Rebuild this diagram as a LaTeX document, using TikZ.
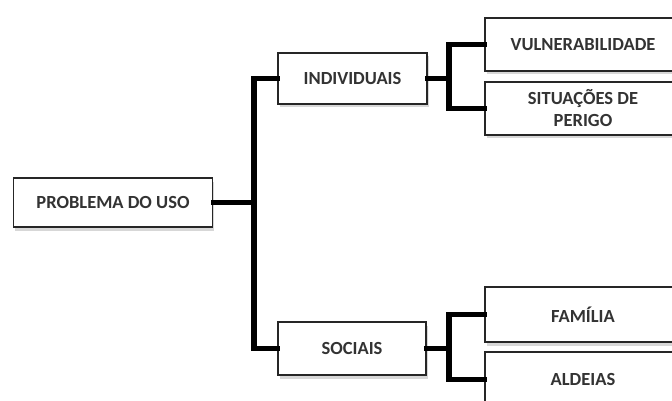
\documentclass[tikz,border=0pt]{standalone}
\usepackage{fontspec}
\setmainfont{Carlito}
\usetikzlibrary{shadows}
\begin{document}
\begin{tikzpicture}[x=1pt,y=-1pt,
  box/.style={draw=black!85, line width=1.8pt, fill=white, inner sep=0pt,
    align=center, text=black!80,
    font=\fontsize{18.5}{22}\selectfont\bfseries,
    drop shadow={shadow xshift=1.5pt, shadow yshift=-3.5pt, fill=black!35, opacity=0.45}},
  link/.style={draw=black, line width=5.5pt, line join=miter, line cap=rect}]
\useasboundingbox (0,0) rectangle (672,401);
\node[box, minimum width=199pt, minimum height=49pt] (root) at (113,202.5) {PROBLEMA DO USO};
\node[box, minimum width=149pt, minimum height=51pt] (ind) at (352.5,78.5) {INDIVIDUAIS};
\node[box, minimum width=148pt, minimum height=53pt] (soc) at (352,348.5) {SOCIAIS};
\node[box, minimum width=196pt, minimum height=53pt] (vul) at (583,44.5) {VULNERABILIDADE};
\node[box, minimum width=196pt, minimum height=53pt] (sit) at (583,108.5) {SITUAÇÕES DE\\PERIGO};
\node[box, minimum width=196pt, minimum height=55pt] (fam) at (583,314.5) {FAMÍLIA};
\node[box, minimum width=196pt, minimum height=55pt] (ald) at (583,379.5) {ALDEIAS};
\coordinate (j1) at (254,202.5);
\coordinate (j2) at (449,78.5);
\coordinate (j3) at (449,348.5);
\draw[link] (root.east) -- (j1);
\draw[link] (ind.west) -| (j1) |- (soc.west);
\draw[link] (ind.east) -- (j2);
\draw[link] (vul.west) -| (j2) |- (sit.west);
\draw[link] (soc.east) -- (j3);
\draw[link] (fam.west) -| (j3) |- (ald.west);
\end{tikzpicture}
\end{document}
